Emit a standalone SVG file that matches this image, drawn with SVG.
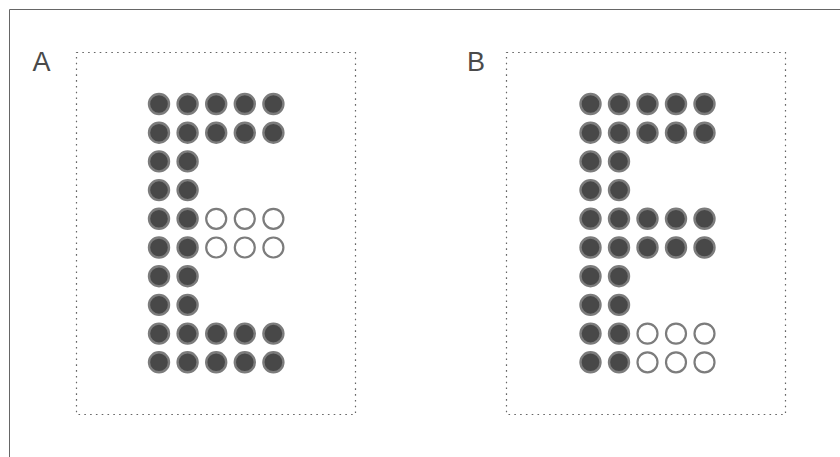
<svg xmlns="http://www.w3.org/2000/svg" width="840" height="457" viewBox="0 0 840 457">
<style>
.frame{fill:none;stroke:#666;stroke-width:1}
.box{fill:none;stroke:#666;stroke-width:1.2;stroke-dasharray:1.6 4.2}
.on{fill:#484848;stroke:#7c7c7c;stroke-width:2.4}
.off{fill:#fff;stroke:#7c7c7c;stroke-width:2.2}
.lbl{font-family:"Liberation Sans",Arial,sans-serif;font-size:27px;fill:#4a4a4a}
</style>
<rect width="840" height="457" fill="#fff"/>
<path class="frame" d="M9.5 457 V9.5 H840"/>
<g id="panelA">
<rect class="box" x="76.5" y="52.5" width="279" height="362"/>
<text class="lbl" x="32.5" y="71">A</text>
<g transform="translate(159,104)">
<g class="on">
<circle cx="0" cy="0" r="10"/><circle cx="28.6" cy="0" r="10"/><circle cx="57.2" cy="0" r="10"/><circle cx="85.8" cy="0" r="10"/><circle cx="114.4" cy="0" r="10"/>
<circle cx="0" cy="28.7" r="10"/><circle cx="28.6" cy="28.7" r="10"/><circle cx="57.2" cy="28.7" r="10"/><circle cx="85.8" cy="28.7" r="10"/><circle cx="114.4" cy="28.7" r="10"/>
<circle cx="0" cy="57.4" r="10"/><circle cx="28.6" cy="57.4" r="10"/>
<circle cx="0" cy="86.1" r="10"/><circle cx="28.6" cy="86.1" r="10"/>
<circle cx="0" cy="114.8" r="10"/><circle cx="28.6" cy="114.8" r="10"/>
<circle cx="0" cy="143.5" r="10"/><circle cx="28.6" cy="143.5" r="10"/>
<circle cx="0" cy="172.2" r="10"/><circle cx="28.6" cy="172.2" r="10"/>
<circle cx="0" cy="200.9" r="10"/><circle cx="28.6" cy="200.9" r="10"/>
<circle cx="0" cy="229.6" r="10"/><circle cx="28.6" cy="229.6" r="10"/><circle cx="57.2" cy="229.6" r="10"/><circle cx="85.8" cy="229.6" r="10"/><circle cx="114.4" cy="229.6" r="10"/>
<circle cx="0" cy="258.3" r="10"/><circle cx="28.6" cy="258.3" r="10"/><circle cx="57.2" cy="258.3" r="10"/><circle cx="85.8" cy="258.3" r="10"/><circle cx="114.4" cy="258.3" r="10"/>
</g>
<g class="off">
<circle cx="57.2" cy="114.8" r="10"/><circle cx="85.8" cy="114.8" r="10"/><circle cx="114.4" cy="114.8" r="10"/>
<circle cx="57.2" cy="143.5" r="10"/><circle cx="85.8" cy="143.5" r="10"/><circle cx="114.4" cy="143.5" r="10"/>
</g>
</g>
</g>
<g id="panelB">
<rect class="box" x="506.5" y="52.5" width="279" height="362"/>
<text class="lbl" x="467" y="71">B</text>
<g transform="translate(590.5,104)">
<g class="on">
<circle cx="0" cy="0" r="10"/><circle cx="28.5" cy="0" r="10"/><circle cx="57" cy="0" r="10"/><circle cx="85.5" cy="0" r="10"/><circle cx="114" cy="0" r="10"/>
<circle cx="0" cy="28.7" r="10"/><circle cx="28.5" cy="28.7" r="10"/><circle cx="57" cy="28.7" r="10"/><circle cx="85.5" cy="28.7" r="10"/><circle cx="114" cy="28.7" r="10"/>
<circle cx="0" cy="57.4" r="10"/><circle cx="28.5" cy="57.4" r="10"/>
<circle cx="0" cy="86.1" r="10"/><circle cx="28.5" cy="86.1" r="10"/>
<circle cx="0" cy="114.8" r="10"/><circle cx="28.5" cy="114.8" r="10"/><circle cx="57" cy="114.8" r="10"/><circle cx="85.5" cy="114.8" r="10"/><circle cx="114" cy="114.8" r="10"/>
<circle cx="0" cy="143.5" r="10"/><circle cx="28.5" cy="143.5" r="10"/><circle cx="57" cy="143.5" r="10"/><circle cx="85.5" cy="143.5" r="10"/><circle cx="114" cy="143.5" r="10"/>
<circle cx="0" cy="172.2" r="10"/><circle cx="28.5" cy="172.2" r="10"/>
<circle cx="0" cy="200.9" r="10"/><circle cx="28.5" cy="200.9" r="10"/>
<circle cx="0" cy="229.6" r="10"/><circle cx="28.5" cy="229.6" r="10"/>
<circle cx="0" cy="258.3" r="10"/><circle cx="28.5" cy="258.3" r="10"/>
</g>
<g class="off">
<circle cx="57" cy="229.6" r="10"/><circle cx="85.5" cy="229.6" r="10"/><circle cx="114" cy="229.6" r="10"/>
<circle cx="57" cy="258.3" r="10"/><circle cx="85.5" cy="258.3" r="10"/><circle cx="114" cy="258.3" r="10"/>
</g>
</g>
</g>
</svg>
